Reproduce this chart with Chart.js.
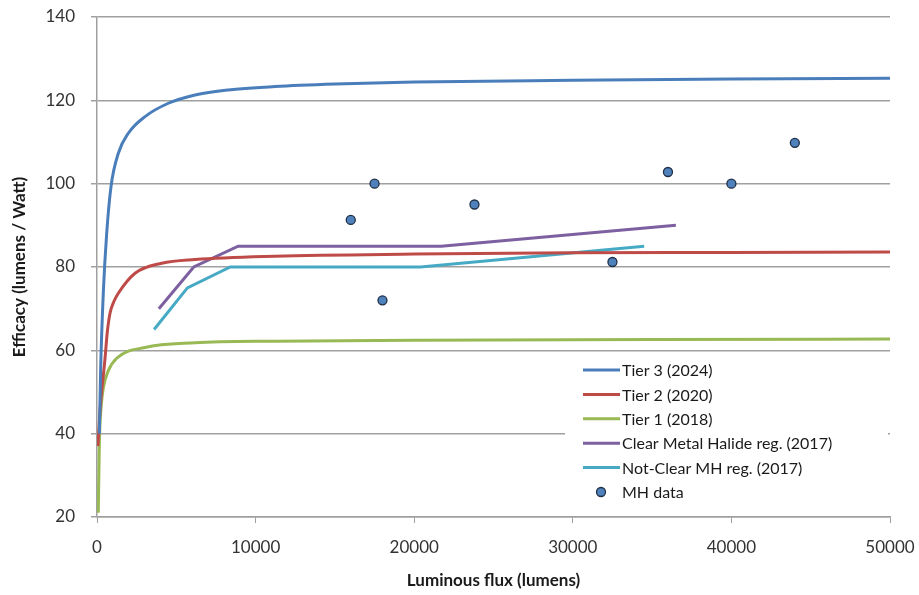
<!DOCTYPE html>
<html>
<head>
<meta charset="utf-8">
<script src="https://cdn.jsdelivr.net/npm/chart.js@4.4.1/dist/chart.umd.min.js"></script>
<style>
  html, body { margin: 0; padding: 0; background: #fff; }
  #wrap { width: 919px; height: 595px; }
</style>
</head>
<body>
<div id="wrap"><canvas id="c" width="919" height="595"></canvas></div>
<script>
// values
const tier3X = [150, 233, 400, 610, 883, 1345, 1975, 3030, 4500, 6180, 8280, 11220, 15000, 20000, 30000, 40000, 50000];
const tier3Y = [40, 56, 74, 88, 99.3, 107.3, 112.1, 116.1, 119.3, 121.3, 122.5, 123.3, 123.9, 124.4, 124.8, 125.1, 125.3];

const tier2X = [60, 200, 505, 650, 820, 1050, 1345, 2400, 4080, 6180, 11220, 20000, 30000, 40000, 50000];
const tier2Y = [37, 46, 58, 64.4, 68.9, 71.6, 73.7, 78.5, 80.9, 81.8, 82.6, 83.1, 83.4, 83.5, 83.6];

const tier1X = [80, 150, 250, 400, 700, 1240, 3030, 6180, 11220, 20000, 35000, 50000];
const tier1Y = [21, 38, 46, 51, 55, 58.1, 60.7, 61.8, 62.2, 62.4, 62.6, 62.7];

const clearX = [3900, 6100, 8900, 21700, 36500];
const clearY = [70, 80, 85, 85, 90];

const notClearX = [3600, 5700, 8400, 20400, 34500];
const notClearY = [65, 75, 80, 80, 85];

const mhX = [16000, 17500, 18000, 23800, 32500, 36000, 40000, 44000];
const mhY = [91.3, 100, 72, 95, 81.2, 102.8, 100, 109.8];

const xTicks = [0, 10000, 20000, 30000, 40000, 50000];
const yTicks = [20, 40, 60, 80, 100, 120, 140];

const seriesNames = ['Tier 3 (2024)', 'Tier 2 (2020)', 'Tier 1 (2018)', 'Clear Metal Halide reg. (2017)', 'Not-Clear MH reg. (2017)', 'MH data'];

const toPts = (xs, ys) => xs.map((x, i) => ({ x: x, y: ys[i] }));

const FONT = 'Lato, "Open Sans", sans-serif';

function lineSet(label, xs, ys, color, smooth) {
    return {
        label: label,
        data: toPts(xs, ys),
        showLine: true,
        borderColor: color,
        backgroundColor: color,
        borderWidth: 3,
        pointRadius: 0,
        pointHoverRadius: 0,
        tension: smooth ? 0.4 : 0,
        cubicInterpolationMode: smooth ? 'monotone' : 'default',
        fill: false,
    };
}

const datasets = [
    lineSet(seriesNames[0], tier3X, tier3Y, '#4a7ebb', true),
    lineSet(seriesNames[1], tier2X, tier2Y, '#be4b48', true),
    lineSet(seriesNames[2], tier1X, tier1Y, '#98b954', true),
    lineSet(seriesNames[3], clearX, clearY, '#7d60a0', false),
    lineSet(seriesNames[4], notClearX, notClearY, '#46aac5', false),
    {
        label: seriesNames[5],
        data: toPts(mhX, mhY),
        showLine: false,
        pointRadius: 4.5,
        pointBackgroundColor: '#4f81bd',
        pointBorderColor: '#1f2f45',
        pointBorderWidth: 1.3,
        borderColor: '#1f2f45',
        backgroundColor: '#4f81bd',
    },
];

// legend drawn inside the plot area, bottom right, on a white box
const insideLegend = {
    id: 'insideLegend',
    afterDatasetsDraw(chart) {
        const ctx = chart.ctx;
        const area = chart.chartArea;
        const boxL = area.right - 325, boxT = area.bottom - 162;
        ctx.save();
        ctx.fillStyle = '#ffffff';
        ctx.fillRect(boxL, boxT, 323, 154);
        ctx.font = '16px ' + FONT;
        ctx.textBaseline = 'middle';
        chart.data.datasets.forEach((ds, i) => {
            const y = boxT + 15 + i * 24.4;
            const x0 = boxL + 18;
            if (ds.showLine) {
                ctx.strokeStyle = ds.borderColor;
                ctx.lineWidth = 3;
                ctx.beginPath();
                ctx.moveTo(x0, y);
                ctx.lineTo(x0 + 37, y);
                ctx.stroke();
            } else {
                ctx.beginPath();
                ctx.arc(x0 + 18, y, 4.5, 0, Math.PI * 2);
                ctx.fillStyle = ds.pointBackgroundColor;
                ctx.fill();
                ctx.lineWidth = 1.3;
                ctx.strokeStyle = ds.pointBorderColor;
                ctx.stroke();
            }
            ctx.fillStyle = '#1a1a1a';
            ctx.fillText(ds.label, x0 + 39, y + 1);
        });
        ctx.restore();
    }
};

new Chart(document.getElementById('c').getContext('2d'), {
    type: 'scatter',
    data: { datasets: datasets },
    plugins: [insideLegend],
    options: {
        responsive: false,
        animation: false,
        layout: { padding: { top: 17, right: 29, left: 0, bottom: 0 } },
        plugins: {
            legend: { display: false },
            tooltip: { enabled: false },
        },
        scales: {
            x: {
                type: 'linear',
                min: 0,
                max: 50000,
                afterBuildTicks: (scale) => { scale.ticks = xTicks.map(v => ({ value: v })); },
                afterFit: (scale) => {
                    scale.height = 78;
                    scale.paddingLeft = 0;
                    scale.paddingRight = 0;
                },
                grid: {
                    drawOnChartArea: false,
                    drawTicks: true,
                    tickLength: 6,
                    color: '#a0a0a0',
                },
                border: { color: '#a0a0a0', width: 1.5 },
                ticks: {
                    color: '#333333',
                    font: { family: FONT, size: 17 },
                    padding: 14,
                    maxRotation: 0,
                    callback: (v) => String(v),
                },
                title: {
                    display: true,
                    text: 'Luminous flux (lumens)',
                    color: '#1a1a1a',
                    font: { family: FONT, size: 17, weight: 'bold' },
                    padding: { top: 6 },
                },
            },
            y: {
                type: 'linear',
                min: 20,
                max: 140,
                afterBuildTicks: (scale) => { scale.ticks = yTicks.map(v => ({ value: v })); },
                afterFit: (scale) => {
                    scale.width = 97;
                    scale.paddingTop = 0;
                    scale.paddingBottom = 0;
                },
                grid: {
                    color: '#a0a0a0',
                    lineWidth: 1.5,
                    drawTicks: true,
                    tickLength: 6,
                },
                border: { color: '#a0a0a0', width: 1.5 },
                ticks: {
                    color: '#333333',
                    font: { family: FONT, size: 17 },
                    padding: 16,
                },
                title: {
                    display: true,
                    text: 'Efficacy (lumens / Watt)',
                    color: '#1a1a1a',
                    font: { family: FONT, size: 17, weight: 'bold' },
                    padding: { top: 9, bottom: 4 },
                },
            },
        },
    },
});
</script>
</body>
</html>
